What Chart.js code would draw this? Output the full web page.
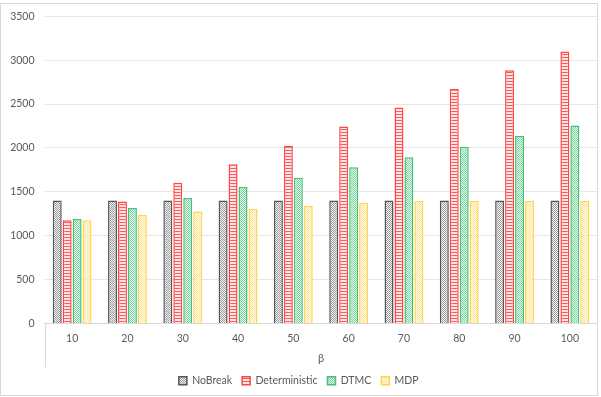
<!DOCTYPE html>
<html>
<head>
<meta charset="utf-8">
<script src="https://cdn.jsdelivr.net/npm/chart.js@4/dist/chart.umd.min.js"></script>
<style>
  html, body { margin: 0; padding: 0; background: #ffffff; }
  #wrap { width: 601px; height: 397px; }
</style>
</head>
<body>
<div id="wrap"><canvas id="chart" width="601" height="397"></canvas></div>
<script>
// Category labels (β values) and series values
const betaLabels = ['10', '20', '30', '40', '50', '60', '70', '80', '90', '100'];
const noBreak = [1400, 1400, 1400, 1400, 1400, 1400, 1400, 1400, 1400, 1400];
const deterministic = [1175, 1390, 1605, 1815, 2025, 2245, 2460, 2675, 2885, 3100];
const dtmc = [1190, 1315, 1430, 1555, 1660, 1780, 1895, 2015, 2135, 2255];
const mdp = [1175, 1235, 1275, 1305, 1340, 1375, 1395, 1398, 1398, 1398];
const yTicks = [0, 500, 1000, 1500, 2000, 2500, 3000, 3500];

const FONT = 'Lato, "Open Sans", sans-serif';
const TEXT = '#595959';

// Small tiled fills for the bars
function checker(fg, bg) {
  const c = document.createElement('canvas');
  c.width = 2; c.height = 2;
  const g = c.getContext('2d');
  g.fillStyle = bg; g.fillRect(0, 0, 2, 2);
  g.fillStyle = fg; g.fillRect(0, 0, 1, 1); g.fillRect(1, 1, 1, 1);
  return g.createPattern(c, 'repeat');
}
function hstripes(fg, bg) {
  const c = document.createElement('canvas');
  c.width = 1; c.height = 3;
  const g = c.getContext('2d');
  g.fillStyle = bg; g.fillRect(0, 0, 1, 3);
  g.fillStyle = fg; g.fillRect(0, 0, 1, 1);
  return g.createPattern(c, 'repeat');
}

// Frame around the chart and the category-axis end markers
const framePlugin = {
  id: 'frame',
  afterDraw(chart) {
    const ctx = chart.ctx;
    const a = chart.chartArea;
    ctx.save();
    ctx.strokeStyle = '#d9d9d9';
    ctx.lineWidth = 1;
    ctx.beginPath();
    ctx.moveTo(Math.round(a.left) + 0.5, a.bottom);
    ctx.lineTo(Math.round(a.left) + 0.5, a.bottom + 44);
    ctx.moveTo(Math.round(a.right) - 0.5, a.bottom);
    ctx.lineTo(Math.round(a.right) - 0.5, a.bottom + 44);
    ctx.stroke();
    ctx.strokeRect(0.5, 3.5, chart.width - 4, chart.height - 5);
    ctx.restore();
  }
};

new Chart(document.getElementById('chart'), {
  type: 'bar',
  data: {
    labels: betaLabels,
    datasets: [
      { label: 'NoBreak', data: noBreak, backgroundColor: checker('#9a9a9a', '#f6f6f6'), borderColor: '#555555' },
      { label: 'Deterministic', data: deterministic, backgroundColor: hstripes('#ff5a5a', '#ffe6e6'), borderColor: '#ff4545' },
      { label: 'DTMC', data: dtmc, backgroundColor: checker('#6fd497', '#f2fbf5'), borderColor: '#48c077' },
      { label: 'MDP', data: mdp, backgroundColor: checker('#ffe394', '#fffcf0'), borderColor: '#ffd54f' }
    ]
  },
  options: {
    responsive: false,
    animation: false,
    devicePixelRatio: 1,
    layout: { padding: { top: 14, right: 3.5, bottom: 1, left: 0 } },
    datasets: {
      bar: { categoryPercentage: 0.72, barPercentage: 0.9, borderWidth: 1.5, borderSkipped: 'start' }
    },
    plugins: {
      tooltip: { enabled: false },
      legend: {
        position: 'bottom',
        labels: {
          boxWidth: 8, boxHeight: 8, padding: 10,
          color: TEXT,
          font: { family: FONT, size: 10.5 }
        }
      }
    },
    scales: {
      x: {
        offset: true,
        grid: { display: false, drawTicks: false },
        border: { display: true, color: '#d9d9d9', width: 1 },
        ticks: { color: TEXT, padding: 9, font: { family: FONT, size: 10.5 } },
        title: { display: true, text: 'β', color: TEXT, padding: { top: 0, bottom: 0 }, font: { family: FONT, size: 11 } },
        afterFit(scale) { scale.height = 42; }
      },
      y: {
        min: 0, max: 3500,
        afterBuildTicks(scale) { scale.ticks = yTicks.map(v => ({ value: v })); },
        grid: { color: '#e6e6e6', drawTicks: false },
        border: { display: false },
        ticks: { color: TEXT, padding: 10, font: { family: FONT, size: 10.5 }, callback: v => String(v) },
        afterFit(scale) { scale.width = 44.5; }
      }
    }
  },
  plugins: [framePlugin]
});
</script>
</body>
</html>
